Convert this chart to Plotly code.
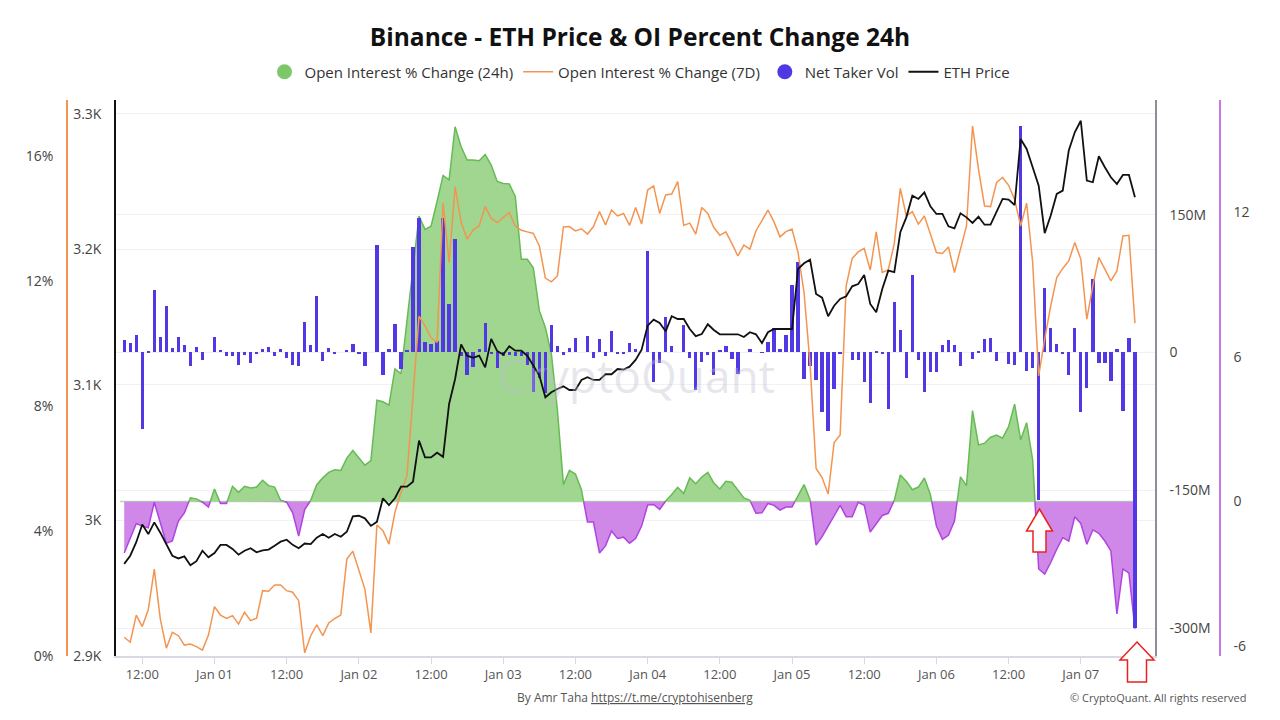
import pandas as pd
import plotly.graph_objects as go

# ---------------- data (hourly, starting 2025-12-31 09:00) ----------------
START = "2025-12-31 09:00"

oi_change_24h = [
    -2.14, -1.50, -0.91, -1.02, -1.09, -0.03, -0.88, -1.73, -1.64, -0.81,
    -0.47, 0.15, 0.11, -0.03, -0.23, 0.52, -0.08, -0.08, 0.63, 0.38,
    0.63, 0.56, 0.60, 0.88, 0.66, 0.60, 0.05, -0.03, -0.47, -1.43,
    -0.33, 0.05, 0.70, 0.98, 1.21, 1.32, 1.29, 1.80, 2.12, 1.80,
    1.51, 1.70, 4.20, 4.14, 4.00, 5.50, 5.30, 7.50, 9.60, 11.84,
    11.29, 11.42, 12.45, 13.53, 13.35, 15.55, 14.72, 14.17, 14.17, 14.14,
    14.40, 13.96, 13.28, 13.20, 13.18, 12.66, 10.05, 10.05, 9.70, 7.92,
    7.22, 6.13, 3.80, 0.70, 1.29, 1.14, 0.49, -0.85, -0.85, -2.14,
    -1.84, -1.22, -1.53, -1.48, -1.73, -1.54, -1.02, -0.15, -0.12, -0.33,
    0.02, 0.29, 0.59, 0.33, 0.98, 0.74, 1.02, 1.21, 0.77, 0.52,
    0.84, 0.80, 0.49, 0.15, 0.05, -0.49, -0.47, -0.08, -0.16, -0.36,
    -0.23, -0.23, 0.25, 0.70, 0.08, -1.81, -1.46, -1.02, -0.54, -0.16,
    -0.63, -0.63, -0.03, -0.16, -1.27, -0.91, -0.58, -0.49, 0.05, 1.10,
    0.84, 0.49, 0.60, 0.98, 0.29, -1.02, -1.57, -1.40, -0.81, 1.02,
    0.66, 3.77, 2.35, 2.42, 2.67, 2.76, 2.63, 3.11, 4.04, 2.56,
    3.27, 1.73, -2.80, -3.01, -2.53, -1.98, -1.50, -1.64, -0.63, -0.91,
    -1.77, -1.18, -1.32, -1.64, -2.05, -4.66, -2.80, -2.97, -5.28,
]

oi_change_7d = [
    0.60, 0.44, 1.31, 0.94, 1.48, 2.78, 1.18, 0.25, 0.76, 0.65,
    0.35, 0.38, 0.30, 0.19, 0.67, 1.58, 1.31, 1.20, 1.29, 1.02,
    1.40, 1.13, 1.21, 2.09, 2.07, 2.27, 2.27, 2.09, 2.04, 1.77,
    0.10, 0.65, 1.00, 0.65, 1.06, 1.20, 1.31, 3.10, 3.35, 2.78,
    2.14, 0.74, 4.19, 4.01, 3.58, 4.60, 5.23, 5.77, 8.22, 10.87,
    10.56, 10.19, 10.03, 14.49, 12.59, 15.01, 13.87, 13.34, 13.63, 13.76,
    14.38, 14.00, 13.87, 14.03, 14.19, 13.76, 13.62, 13.57, 13.52, 13.12,
    12.09, 11.97, 12.16, 13.73, 13.74, 13.60, 13.67, 13.50, 13.74, 14.22,
    13.79, 14.27, 14.08, 14.16, 13.78, 14.35, 13.82, 14.91, 15.04, 14.16,
    14.75, 14.78, 15.18, 13.78, 13.85, 13.50, 14.35, 14.16, 13.71, 13.46,
    13.57, 13.20, 12.80, 13.15, 13.02, 13.60, 13.92, 14.27, 13.89, 13.41,
    13.58, 13.66, 12.91, 11.63, 9.34, 6.00, 5.71, 5.18, 6.83, 7.07,
    11.84, 12.72, 12.93, 13.04, 12.35, 13.57, 12.27, 12.35, 13.20, 14.96,
    14.08, 14.22, 13.82, 14.08, 13.50, 12.91, 12.88, 13.09, 12.27, 13.02,
    13.76, 16.96, 15.57, 14.40, 14.38, 15.15, 15.31, 15.06, 14.61, 13.76,
    14.49, 12.59, 8.96, 10.14, 11.20, 12.11, 12.40, 12.64, 13.23, 12.70,
    10.78, 11.84, 12.75, 12.38, 12.00, 12.32, 13.44, 13.46, 10.65,
]

net_taker_vol_m = [
    14, 10, 19.5, -83.5, 1, 68, 16.6, 51, 5.4, 16.6,
    8.3, -15, 6, -8.5, 0, 16.6, 3, -4.3, -4.3, -14,
    -3, -12, -1, 4.3, 6, -3.6, 4.3, -5.8, -14, -14.5,
    33, 8, 62, -9.4, 5.4, -0.7, 0, 3, 8.7, -1.8,
    -14.5, 0, 117, -25, 3.6, 31, -18, 3, 115, 146,
    11, 9, 13, 146, 53, 124, -3.6, -25, -16, 4.3,
    32.5, -2, -17, -3.6, -3, -4, -4, -14, -43, -28,
    -44, 30, 6.5, -3, 5.4, 15.6, 0, 18.4, -6.5, 15,
    -4.3, 23, -2, -2, 10, 4.3, 0, 110, -32, -12,
    38.7, 7, 0, 30, -6.5, -41, -10, -3, -25, 3,
    7, -7, -23, 0, 3.6, 0, -0.5, 11.6, 27, 4.3,
    19.5, 73, 98.7, -28.6, -14.5, -30, -65, -85, -40, -1,
    0, -8, -8, -32, -55, 1, -2, -62, 55, 24,
    -28, 84, -8, -43, -21, -21, 8, 13.5, 8, -14.5,
    0, -7, 2, 14.5, 16, -9.4, 0, -13, -14, 246,
    -20, -16.6, -161, 70.5, 27, 9, -2, -24, 27, -65,
    -39, 79.5, -11.6, -11.6, -31, 3.6, -64, 16, -300,
]

eth_price = [
    2968, 2974, 2984, 2997, 2990, 2998.6, 2991, 2982.7, 2974, 2972,
    2973.5, 2967, 2970, 2977.7, 2972.8, 2976, 2982, 2982, 2979, 2974.8,
    2977.7, 2979.5, 2976.5, 2978, 2978.5, 2981.4, 2984.4, 2985.8, 2982, 2979.5,
    2983, 2982.6, 2987.3, 2990, 2987.3, 2990, 2988, 2991.7, 3003, 3003.5,
    3001.6, 2996, 2999, 3016.4, 3011.4, 3016.4, 3025, 3025, 3028.6, 3058.9,
    3046.6, 3046.6, 3050, 3047, 3086, 3104.4, 3130, 3121.6, 3120, 3121.6,
    3113, 3134, 3125, 3122.5, 3128.6, 3125.3, 3125.3, 3121.6, 3114.2, 3106.9,
    3090.9, 3094.6, 3097, 3099, 3096.3, 3096.3, 3103.7, 3105.7, 3103.7, 3103.7,
    3107.9, 3107.9, 3111.8, 3111.3, 3113.5, 3118.5, 3126, 3143.8, 3148.2, 3145.8,
    3139.6, 3150.7, 3148.7, 3148.7, 3141.3, 3136, 3137.6, 3144.8, 3140.6, 3137.4,
    3137.4, 3137.4, 3137.4, 3135.4, 3138.9, 3137.4, 3131, 3138.9, 3141.3, 3141.3,
    3141.3, 3141.3, 3185.6, 3189.8, 3192.5, 3167.2, 3164.4, 3150.7, 3158.5, 3163.5,
    3165.5, 3172.8, 3174.5, 3181.2, 3159.8, 3153.6, 3170.8, 3184.4, 3183.2, 3212.7,
    3223.7, 3239.7, 3237.3, 3242.2, 3231.9, 3226.2, 3226.2, 3217.1, 3215.6, 3226.7,
    3223.7, 3219.6, 3224.2, 3218.3, 3218.3, 3227.4, 3237.3, 3236.8, 3232.8, 3281.5,
    3274.2, 3260.7, 3247.1, 3212, 3225, 3241, 3243.4, 3273, 3286.5, 3295,
    3250.8, 3249.6, 3268.8, 3260.7, 3253.3, 3248.3, 3255, 3255, 3238.5,
]

x_tick_times = [
    "2025-12-31 12:00", "2026-01-01 00:00", "2026-01-01 12:00", "2026-01-02 00:00",
    "2026-01-02 12:00", "2026-01-03 00:00", "2026-01-03 12:00", "2026-01-04 00:00",
    "2026-01-04 12:00", "2026-01-05 00:00", "2026-01-05 12:00", "2026-01-06 00:00",
    "2026-01-06 12:00", "2026-01-07 00:00",
]
x_tick_labels = ["12:00", "Jan 01", "12:00", "Jan 02", "12:00", "Jan 03", "12:00",
                 "Jan 04", "12:00", "Jan 05", "12:00", "Jan 06", "12:00", "Jan 07"]

oi7_ticks = [0, 4, 8, 12, 16]
oi7_labels = ["0%", "4%", "8%", "12%", "16%"]
eth_ticks = [2900, 3000, 3100, 3200, 3300]
eth_labels = ["2.9K", "3K", "3.1K", "3.2K", "3.3K"]
ntv_ticks = [-300, -150, 0, 150]
ntv_labels = ["-300M", "-150M", "0", "150M"]
oi24_ticks = [-6, 0, 6, 12]
oi24_labels = ["-6", "0", "6", "12"]

# ---------------- styling ----------------
W, H = 1280, 720
ML, MR, MT, MB = 67, 60, 100, 64
FONT = "Open Sans"
GREEN_FILL = "rgba(160,214,144,1)"
GREEN_LINE = "#66bb55"
PURPLE_FILL = "rgba(207,135,232,1)"
PURPLE_LINE = "#b044e0"
BAR_COLOR = "#5038e5"
ORANGE = "#f39550"
TXT = "#444444"


def px_x(px):
    return (px - ML) / (W - ML - MR)


def px_y(py):
    return (H - MB - py) / (H - MT - MB)


times = pd.date_range(START, periods=len(eth_price), freq="h")

# split OI 24h into positive / negative parts with zero crossings
xs, vs = [], []
for k, v in enumerate(oi_change_24h):
    if k > 0:
        p = oi_change_24h[k - 1]
        if (p > 0 > v) or (p < 0 < v):
            frac = p / (p - v)
            xs.append(times[k - 1] + (times[k] - times[k - 1]) * frac)
            vs.append(0.0)
    xs.append(times[k])
    vs.append(v)

pos_fill = [max(v, 0) for v in vs]
neg_fill = [min(v, 0) for v in vs]
pos_line = [v if v >= 0 else None for v in vs]
neg_line = [v if v <= 0 else None for v in vs]

fig = go.Figure()

fig.add_trace(go.Scatter(x=xs, y=pos_fill, mode="lines", fill="tozeroy",
                         fillcolor=GREEN_FILL, line=dict(width=0),
                         yaxis="y", showlegend=False, hoverinfo="skip"))
fig.add_trace(go.Scatter(x=xs, y=neg_fill, mode="lines", fill="tozeroy",
                         fillcolor=PURPLE_FILL, line=dict(width=0),
                         yaxis="y", showlegend=False, hoverinfo="skip"))
fig.add_trace(go.Scatter(x=xs, y=pos_line, mode="lines", connectgaps=False,
                         line=dict(color=GREEN_LINE, width=1.5),
                         yaxis="y", showlegend=False, hoverinfo="skip"))
fig.add_trace(go.Scatter(x=xs, y=neg_line, mode="lines", connectgaps=False,
                         line=dict(color=PURPLE_LINE, width=1.5),
                         yaxis="y", showlegend=False, hoverinfo="skip"))

fig.add_trace(go.Bar(x=times, y=net_taker_vol_m, yaxis="y2",
                     marker=dict(color=BAR_COLOR, line=dict(width=0)),
                     width=2.0e6, showlegend=False, name="Net Taker Vol"))

fig.add_trace(go.Scatter(x=times, y=oi_change_7d, yaxis="y3", mode="lines",
                         line=dict(color=ORANGE, width=1.5),
                         name="Open Interest % Change (7D)", legendrank=2))

fig.add_trace(go.Scatter(x=times, y=eth_price, yaxis="y4", mode="lines",
                         line=dict(color="#111111", width=1.8),
                         name="ETH Price", legendrank=4))

# legend-only markers
fig.add_trace(go.Scatter(x=[None], y=[None], mode="markers", yaxis="y",
                         marker=dict(size=15, color="#7cc76a"),
                         name="Open Interest % Change (24h)", legendrank=1))
fig.add_trace(go.Scatter(x=[None], y=[None], mode="markers", yaxis="y",
                         marker=dict(size=15, color=BAR_COLOR),
                         name="Net Taker Vol", legendrank=3))

# zero lines
fig.add_shape(type="line", xref="paper", x0=px_x(116), x1=px_x(1155),
              yref="y2", y0=0, y1=0, layer="below",
              line=dict(color="#9a9aa6", width=1, dash="dash"))
fig.add_shape(type="line", xref="paper", x0=px_x(120), x1=px_x(1137),
              yref="y", y0=0, y1=0, layer="below",
              line=dict(color="rgba(170,220,160,0.9)", width=1.5))


def arrow_path(tip_x, tip_y, head_w, shaft_w, head_h, total_h):
    pts = [
        (tip_x, tip_y),
        (tip_x + head_w / 2, tip_y + head_h),
        (tip_x + shaft_w / 2, tip_y + head_h),
        (tip_x + shaft_w / 2, tip_y + total_h),
        (tip_x - shaft_w / 2, tip_y + total_h),
        (tip_x - shaft_w / 2, tip_y + head_h),
        (tip_x - head_w / 2, tip_y + head_h),
    ]
    d = "M " + " L ".join(f"{px_x(a):.5f},{px_y(b):.5f}" for a, b in pts) + " Z"
    return d


for ax_, ay_, hw, sw, hh, th in [(1039.5, 509, 26, 13, 22, 43),
                                 (1137, 642, 34, 19, 18, 40)]:
    fig.add_shape(type="path", xref="paper", yref="paper",
                  path=arrow_path(ax_, ay_, hw, sw, hh, th),
                  line=dict(color="#e8231f", width=1.5), fillcolor="white",
                  layer="above")

axis_font = dict(family=FONT, size=14, color=TXT)

fig.update_layout(
    width=W, height=H,
    margin=dict(l=ML, r=MR, t=MT, b=MB),
    paper_bgcolor="white", plot_bgcolor="white",
    font=dict(family=FONT, size=14, color=TXT),
    title=dict(text="<b>Binance - ETH Price & OI Percent Change 24h</b>",
               x=0.5, xref="container", xanchor="center",
               y=1 - 37 / H, yref="container", yanchor="middle",
               font=dict(family=FONT, size=24.5, color="#111111")),
    legend=dict(orientation="h", x=px_x(640), xanchor="center",
                y=px_y(72), yanchor="middle",
                font=dict(family=FONT, size=15, color="#333333"),
                bgcolor="rgba(0,0,0,0)", itemwidth=30),
    bargap=0,
    showlegend=True,
    xaxis=dict(domain=[px_x(116), px_x(1155)], type="date",
               range=["2025-12-31 07:38", "2026-01-07 12:20"],
               tickvals=x_tick_times, ticktext=x_tick_labels,
               showgrid=False, zeroline=False, showline=True,
               linecolor="#d9d9e4", linewidth=1.5,
               ticks="outside", ticklen=6, tickcolor="#d9d9e4",
               tickfont=dict(family=FONT, size=13, color="#555555")),
    yaxis=dict(range=[-6.41, 16.66], anchor="free", position=1.0, side="right",
               tickvals=oi24_ticks, ticktext=oi24_labels,
               showgrid=False, zeroline=False, showline=True,
               linecolor="#c678e8", linewidth=1.5, ticks="",
               ticklabelstandoff=10, tickfont=axis_font),
    yaxis2=dict(range=[-330.4, 274.8], overlaying="y", anchor="x", side="right",
                tickvals=ntv_ticks, ticktext=ntv_labels,
                showgrid=True, gridcolor="#f1f1f3", gridwidth=1,
                zeroline=False, showline=True,
                linecolor="#8e8e96", linewidth=1.5, ticks="",
                ticklabelstandoff=10, tickfont=axis_font),
    yaxis3=dict(range=[0, 17.79], overlaying="y", anchor="free", position=0.0,
                side="left", tickvals=oi7_ticks, ticktext=oi7_labels,
                showgrid=False, zeroline=False, showline=True,
                linecolor=ORANGE, linewidth=1.5, ticks="",
                ticklabelstandoff=10, tickfont=axis_font),
    yaxis4=dict(range=[2900, 3310.3], overlaying="y", anchor="x", side="left",
                tickvals=eth_ticks, ticktext=eth_labels,
                showgrid=True, gridcolor="#f1f1f3", gridwidth=1,
                zeroline=False, showline=True,
                linecolor="#111111", linewidth=1.5, ticks="",
                ticklabelstandoff=10, tickfont=axis_font),
)

# watermark
fig.add_annotation(text="CryptoQuant", xref="paper", yref="paper",
                   x=px_x(636), y=px_y(375), showarrow=False,
                   font=dict(family=FONT, size=46, color="rgba(190,190,205,0.38)"))

# footer
fig.add_annotation(
    text='By Amr Taha <span style="text-decoration:underline">https://t.me/cryptohisenberg</span>',
    xref="paper", yref="paper", x=px_x(635), y=px_y(697),
    xanchor="center", yanchor="middle", showarrow=False,
    font=dict(family=FONT, size=12, color="#555555"))
fig.add_annotation(
    text="© CryptoQuant. All rights reserved",
    xref="paper", yref="paper", x=px_x(1248), y=px_y(697),
    xanchor="right", yanchor="middle", showarrow=False,
    font=dict(family=FONT, size=11, color="#555555"))

fig.write_html("out.html",
               config={"displayModeBar": False},
               post_script="document.body.style.margin='0px';"
                           "document.body.style.overflow='hidden';")
